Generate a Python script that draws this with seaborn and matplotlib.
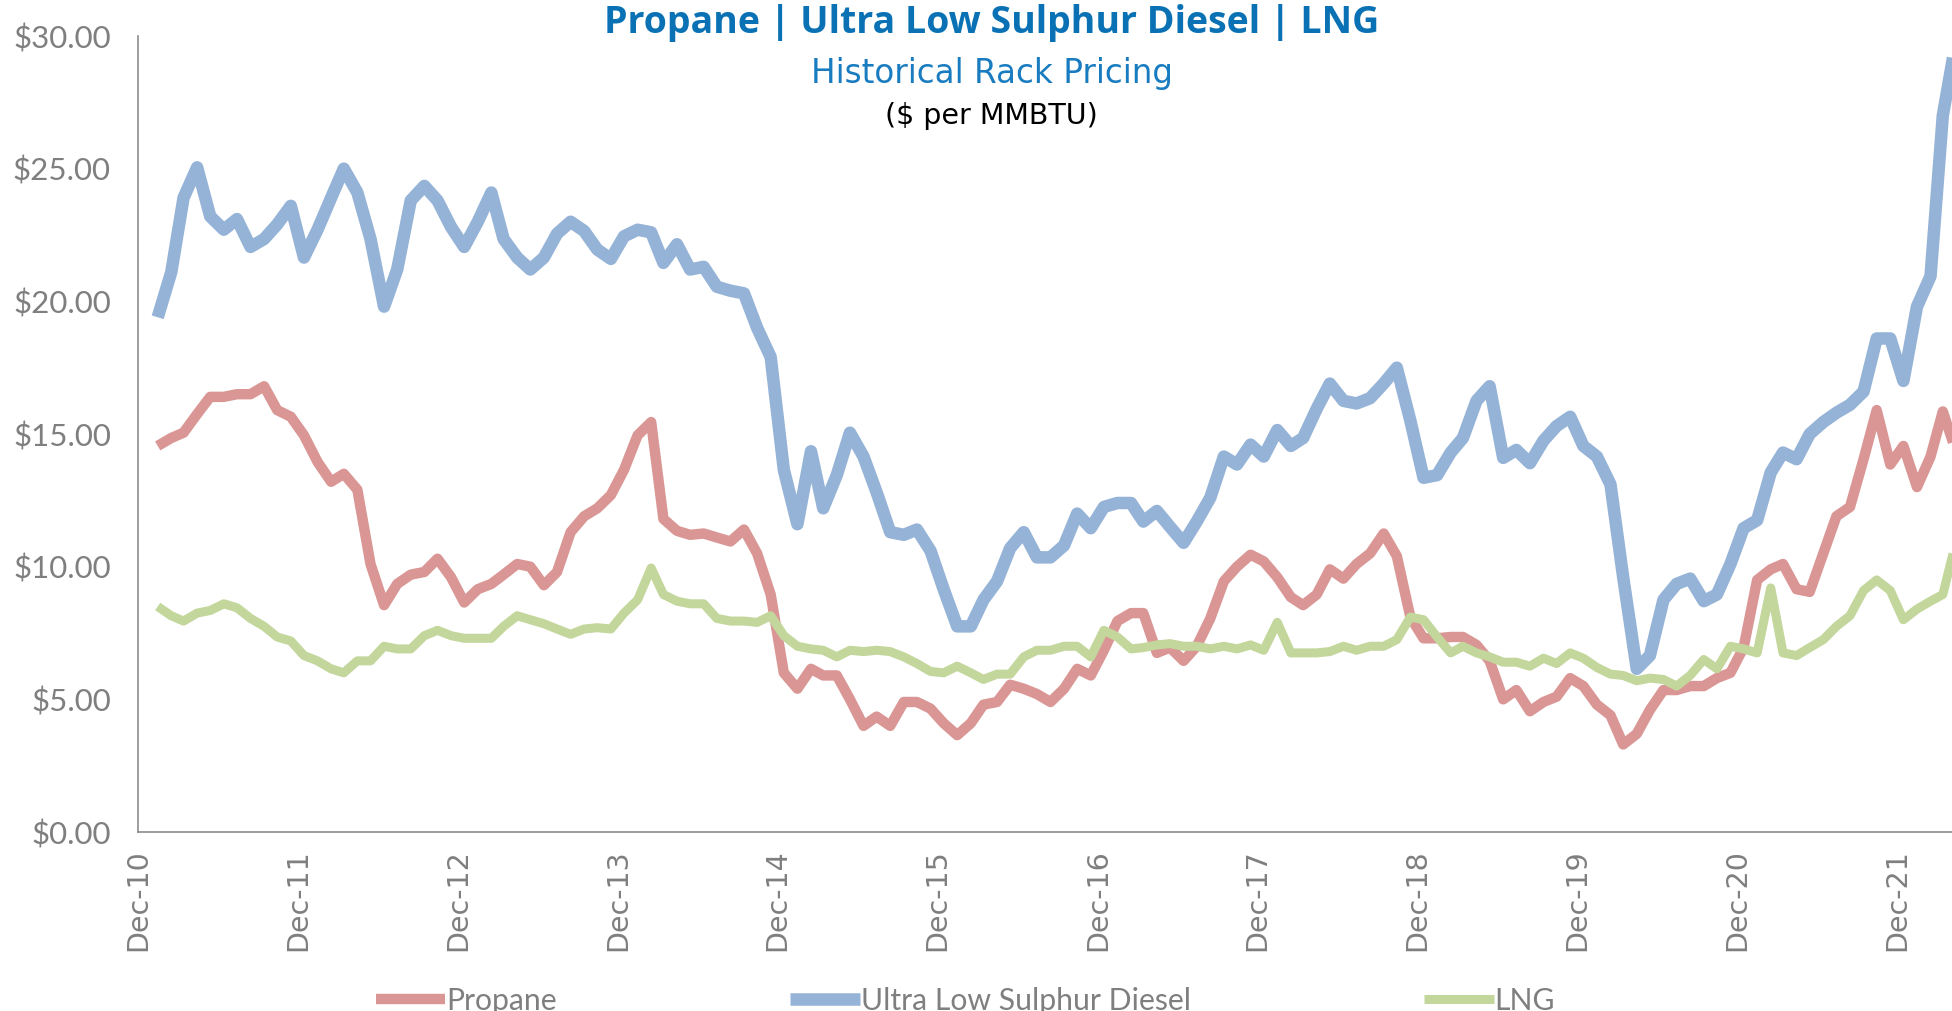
import pandas as pd
import matplotlib
matplotlib.use("Agg")
import matplotlib.pyplot as plt
import matplotlib.dates as mdates
from matplotlib.ticker import FuncFormatter
import seaborn as sns

# monthly rack prices, $ per MMBTU, Jan-11 .. Apr-22
propane = [14.55, 14.85, 15.05, 15.75, 16.4, 16.4, 16.5, 16.5, 16.8, 15.9, 15.65, 14.95,
           13.95, 13.2, 13.5, 12.9, 10.1, 8.55, 9.35, 9.7, 9.8, 10.3, 9.6, 8.65,
           9.15, 9.35, 9.7, 10.1, 10.0, 9.3, 9.8, 11.3, 11.9, 12.2, 12.7, 13.65,
           14.95, 15.45, 11.8, 11.35, 11.2, 11.25, 11.1, 10.95, 11.4, 10.5, 8.95, 6.0,
           5.4, 6.15, 5.9, 5.9, 5.0, 4.0, 4.35, 4.0, 4.9, 4.9, 4.65, 4.1,
           3.65, 4.1, 4.8, 4.9, 5.55, 5.4, 5.2, 4.9, 5.4, 6.15, 5.9, 6.85,
           7.95, 8.25, 8.25, 6.75, 6.95, 6.45, 7.0, 8.05, 9.45, 10.0, 10.45, 10.2,
           9.6, 8.85, 8.55, 8.95, 9.9, 9.55, 10.1, 10.5, 11.25, 10.4, 8.1, 7.3,
           7.3, 7.35, 7.35, 7.05, 6.45, 5.0, 5.35, 4.55, 4.9, 5.1, 5.8, 5.5,
           4.8, 4.4, 3.3, 3.7, 4.6, 5.35, 5.35, 5.5, 5.5, 5.8, 6.0, 6.95,
           9.5, 9.9, 10.1, 9.15, 9.05, 10.5, 11.9, 12.25, 14.05, 15.9, 13.85, 14.55,
           13.0, 14.15, 15.85, 14.3]

ulsd = [19.4, 21.1, 23.9, 25.05, 23.2, 22.7, 23.1, 22.05, 22.35, 22.9, 23.6, 21.65,
        22.7, 23.9, 25.0, 24.1, 22.35, 19.8, 21.2, 23.8, 24.35, 23.8, 22.8, 22.05,
        23.0, 24.1, 22.35, 21.65, 21.2, 21.65, 22.55, 23.0, 22.65, 21.95, 21.6, 22.45,
        22.7, 22.6, 21.45, 22.15, 21.2, 21.3, 20.55, 20.4, 20.3, 19.0, 17.9, 13.65,
        11.6, 14.35, 12.2, 13.45, 15.05, 14.15, 12.8, 11.3, 11.2, 11.4, 10.6, 9.15,
        7.75, 7.75, 8.75, 9.45, 10.7, 11.3, 10.35, 10.35, 10.8, 12.0, 11.45, 12.25,
        12.4, 12.4, 11.7, 12.1, 11.5, 10.9, 11.7, 12.6, 14.15, 13.85, 14.6, 14.15,
        15.15, 14.55, 14.85, 15.95, 16.9, 16.25, 16.15, 16.35, 16.9, 17.5, 15.5, 13.35,
        13.45, 14.3, 14.85, 16.25, 16.8, 14.1, 14.4, 13.9, 14.75, 15.3, 15.65, 14.55,
        14.15, 13.1, 9.6, 6.15, 6.65, 8.75, 9.35, 9.55, 8.7, 8.95, 10.1, 11.45,
        11.75, 13.55, 14.3, 14.05, 15.0, 15.45, 15.8, 16.1, 16.6, 18.6, 18.6, 17.0,
        19.8, 20.95, 27.0, 29.9]

lng = [8.5, 8.15, 7.95, 8.25, 8.35, 8.6, 8.45, 8.05, 7.75, 7.35, 7.2, 6.65,
       6.45, 6.15, 6.0, 6.45, 6.45, 7.0, 6.9, 6.9, 7.4, 7.6, 7.4, 7.3,
       7.3, 7.3, 7.75, 8.15, 8.0, 7.85, 7.65, 7.45, 7.65, 7.7, 7.65, 8.25,
       8.75, 9.95, 8.95, 8.7, 8.6, 8.6, 8.05, 7.95, 7.95, 7.9, 8.15, 7.4,
       7.0, 6.9, 6.85, 6.6, 6.85, 6.8, 6.85, 6.8, 6.6, 6.35, 6.05, 6.0,
       6.25, 6.0, 5.75, 5.95, 5.95, 6.6, 6.85, 6.85, 7.0, 7.0, 6.6, 7.6,
       7.35, 6.9, 6.95, 7.05, 7.1, 7.0, 7.0, 6.9, 7.0, 6.9, 7.05, 6.85,
       7.9, 6.75, 6.75, 6.75, 6.8, 7.0, 6.85, 7.0, 7.0, 7.25, 8.1, 8.0,
       7.35, 6.75, 7.0, 6.75, 6.6, 6.4, 6.4, 6.25, 6.55, 6.35, 6.75, 6.55,
       6.2, 5.95, 5.9, 5.7, 5.8, 5.75, 5.5, 5.9, 6.5, 6.15, 7.0, 6.9,
       6.75, 9.2, 6.75, 6.65, 6.95, 7.25, 7.75, 8.15, 9.1, 9.5, 9.1, 8.0,
       8.4, 8.7, 8.95, 11.0]

dates = pd.date_range("2011-01-01", periods=len(propane), freq="MS") + pd.Timedelta(days=14)
tick_dates = pd.date_range("2010-12-01", "2021-12-01", freq="12MS")

sns.set_style("white")
plt.rcParams["font.family"] = ["Lato", "DejaVu Sans"]

fig = plt.figure(figsize=(19.52, 10.11), dpi=100)
ax = fig.add_axes([138 / 1952, 1 - 832 / 1011, 1 - 138 / 1952, 796 / 1011])

kw = dict(solid_joinstyle="round", solid_capstyle="butt")
sns.lineplot(x=dates, y=propane, ax=ax, color="#D99694", linewidth=7.5, label="Propane", **kw)
sns.lineplot(x=dates, y=ulsd, ax=ax, color="#95B3D7", linewidth=9, label="Ultra Low Sulphur Diesel", **kw)
sns.lineplot(x=dates, y=lng, ax=ax, color="#C3D69B", linewidth=6.5, label="LNG", **kw)

ax.set_ylim(0, 30)
ax.set_xlim(pd.Timestamp("2010-12-01"), pd.Timestamp("2022-04-05"))
ax.set_yticks([0, 5, 10, 15, 20, 25, 30])
ax.yaxis.set_major_formatter(FuncFormatter(lambda v, p: "${:.2f}".format(v)))
ax.set_xticks(tick_dates)
ax.xaxis.set_major_formatter(mdates.DateFormatter("%b-%y"))
ax.tick_params(axis="y", labelsize=22.5, colors="#7F7F7F", length=6.5, width=1.2, direction="out", pad=13)
ax.tick_params(axis="x", labelsize=20.5, colors="#7F7F7F", length=6.5, width=1.2, direction="out",
               pad=6, labelrotation=90)
for lab in ax.get_xticklabels():
    lab.set_family("DejaVu Sans")
ax.set_xlabel("")
ax.set_ylabel("")
ax.spines["top"].set_visible(False)
ax.spines["right"].set_visible(False)
ax.spines["left"].set_color("#8C8C8C")
ax.spines["bottom"].set_color("#8C8C8C")
ax.spines["left"].set_linewidth(1.2)
ax.spines["bottom"].set_linewidth(1.2)

h, l = ax.get_legend_handles_labels()
ax.get_legend().remove()
leg = fig.legend(h, l, loc="center left", bbox_to_anchor=(376 / 1952, 0.010), ncol=3, frameon=False,
                 fontsize=21.7, handlelength=2.3, handletextpad=0.03, columnspacing=7.75,
                 borderpad=0, borderaxespad=0)
for t in leg.get_texts():
    t.set_color("#7F7F7F")

fig.text(0.508, 0.977, "Propane | Ultra Low Sulphur Diesel | LNG", ha="center", va="center",
         fontsize=27, fontweight="bold", color="#0A72B4", family="Open Sans")
fig.text(0.508, 0.927, "Historical Rack Pricing", ha="center", va="center",
         fontsize=23.5, color="#1A7CC0", family="DejaVu Sans")
fig.text(0.508, 0.885, "($ per MMBTU)", ha="center", va="center",
         fontsize=20.5, color="black", family="DejaVu Sans")

fig.savefig("out.png", dpi=100)
